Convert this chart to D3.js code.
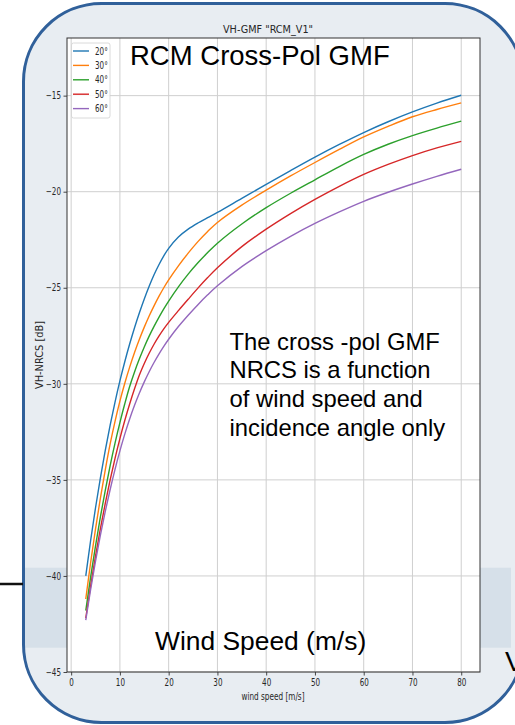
<!DOCTYPE html>
<html><head><meta charset="utf-8">
<script src="https://cdn.jsdelivr.net/npm/d3@7"></script>
<style>html,body{margin:0;padding:0;background:#fff;overflow:hidden}</style>
</head><body>
<svg id="chart" width="515" height="725"></svg>
<script>
// ---- data ----
const windSpeed = [3,4,5,6,7,8,9,10,11,12,13,14,15,16,17,18,19,20,22,24,26,28,30,35,40,45,50,55,60,65,70,75,80];
const angleLabels = ["20°","30°","40°","50°","60°"];
const nrcs20 = [-40.0,-38.15,-36.45,-34.89,-33.46,-32.15,-30.95,-29.85,-28.85,-27.93,-27.08,-26.3,-25.58,-24.92,-24.32,-23.8,-23.34,-22.95,-22.36,-21.95,-21.63,-21.35,-21.08,-20.35,-19.62,-18.9,-18.2,-17.54,-16.92,-16.36,-15.85,-15.39,-14.98];
const nrcs30 = [-41.2,-39.3,-37.55,-35.95,-34.48,-33.13,-31.95,-30.9,-29.97,-29.13,-28.37,-27.68,-27.05,-26.47,-25.94,-25.45,-25.0,-24.59,-23.86,-23.2,-22.6,-22.07,-21.6,-20.7,-19.92,-19.18,-18.48,-17.8,-17.15,-16.6,-16.1,-15.72,-15.38];
const nrcs40 = [-41.8,-40.05,-38.43,-36.93,-35.54,-34.26,-33.09,-32.02,-31.04,-30.14,-29.38,-28.7,-28.08,-27.52,-27.01,-26.54,-26.1,-25.69,-24.95,-24.29,-23.7,-23.17,-22.68,-21.68,-20.83,-20.08,-19.38,-18.69,-18.06,-17.53,-17.08,-16.69,-16.33];
const nrcs50 = [-42.2,-40.52,-38.97,-37.54,-36.22,-35.0,-33.88,-32.85,-31.91,-31.05,-30.26,-29.54,-28.94,-28.41,-27.94,-27.52,-27.14,-26.8,-26.19,-25.6,-25.02,-24.47,-23.96,-22.86,-21.95,-21.14,-20.4,-19.72,-19.1,-18.58,-18.12,-17.72,-17.38];
const nrcs60 = [-42.3,-40.7,-39.23,-37.88,-36.64,-35.5,-34.45,-33.49,-32.62,-31.83,-31.12,-30.48,-29.9,-29.37,-28.89,-28.45,-28.05,-27.68,-27.02,-26.43,-25.88,-25.37,-24.9,-23.9,-23.07,-22.32,-21.65,-21.05,-20.5,-20.03,-19.6,-19.2,-18.83];
const xTicks = [0,10,20,30,40,50,60,70,80];
const yTicks = [-45,-40,-35,-30,-25,-20,-15];
const xDomain = [-0.85, 83.85];
const yDomain = [-45, -12];
const chartTitle = 'VH-GMF "RCM_V1"';
const xLabel = "wind speed [m/s]";
const yLabel = "VH-NRCS [dB]";
const overlayTitle = "RCM Cross-Pol GMF";
const noteLines = ["The cross -pol GMF","NRCS is a function","of wind speed and","incidence angle only"];
const overlayXLabel = "Wind Speed (m/s)";

const series = [nrcs20, nrcs30, nrcs40, nrcs50, nrcs60];
const colors = ["#1f77b4","#ff7f0e","#2ca02c","#d62728","#9467bd"];

// ---- layout ----
const svg = d3.select("#chart");
const plot = {left: 67, right: 480, top: 38, bottom: 672};
const SQ = 0.72; // horizontal squeeze of the embedded matplotlib picture
const mplFont = "'DejaVu Sans', sans-serif";
const pptFont = "'Liberation Sans', Arial, sans-serif";

// slide background pieces
svg.append("rect").attr("x",0).attr("y",0).attr("width",515).attr("height",725).attr("fill","#fff");
svg.append("rect").attr("x",23.5).attr("y",3.5).attr("width",499.5).attr("height",719)
  .attr("rx",78).attr("ry",78).attr("fill","#e8edf2").attr("stroke","none");
svg.append("rect").attr("x",25).attr("y",567.7).attr("width",plot.left-25).attr("height",80).attr("fill","#d6e0e9");
svg.append("rect").attr("x",plot.right).attr("y",567.7).attr("width",511-plot.right).attr("height",80).attr("fill","#d6e0e9");
svg.append("rect").attr("x",23.5).attr("y",3.5).attr("width",499.5).attr("height",719)
  .attr("rx",78).attr("ry",78).attr("fill","none").attr("stroke","#30609a").attr("stroke-width",3);
svg.append("line").attr("x1",0).attr("x2",23).attr("y1",584).attr("y2",584).attr("stroke","#111").attr("stroke-width",2.5);

// scales
const x = d3.scaleLinear().domain(xDomain).range([plot.left, plot.right]);
const y = d3.scaleLinear().domain(yDomain).range([plot.bottom, plot.top]);

// axes background
svg.append("rect").attr("x",plot.left).attr("y",plot.top)
  .attr("width",plot.right-plot.left).attr("height",plot.bottom-plot.top).attr("fill","#fff");

// grid
const grid = svg.append("g");
grid.selectAll(".gx").data(xTicks).join("line")
  .attr("x1",d=>x(d)).attr("x2",d=>x(d)).attr("y1",plot.top).attr("y2",plot.bottom)
  .attr("stroke","#cfcfcf").attr("stroke-width",1);
grid.selectAll(".gy").data(yTicks).join("line")
  .attr("x1",plot.left).attr("x2",plot.right).attr("y1",d=>y(d)).attr("y2",d=>y(d))
  .attr("stroke","#cfcfcf").attr("stroke-width",1);

// curves
const line = d3.line().x(d=>x(d[0])).y(d=>y(d[1])).curve(d3.curveCatmullRom.alpha(0.5));
series.forEach((vals,i)=>{
  svg.append("path").datum(windSpeed.map((w,j)=>[w,vals[j]]))
    .attr("d",line).attr("fill","none").attr("stroke",colors[i]).attr("stroke-width",1.4);
});

// axes
const xAxis = svg.append("g").attr("transform",`translate(0,${plot.bottom})`)
  .call(d3.axisBottom(x).tickValues(xTicks).tickSize(3.5).tickPadding(3).tickFormat(d3.format("d")));
const yAxis = svg.append("g").attr("transform",`translate(${plot.left},0)`)
  .call(d3.axisLeft(y).tickValues(yTicks).tickSize(3.5).tickFormat(d=>"\u2212"+Math.abs(d)));
[xAxis,yAxis].forEach(a=>{
  a.select(".domain").remove();
  a.selectAll(".tick line").attr("stroke","#333").attr("stroke-width",0.9);
  a.selectAll("text").attr("font-family",mplFont).attr("font-size",10).attr("fill","#262626");
});
yAxis.selectAll("text").attr("x",-6/SQ).attr("transform",`scale(${SQ},1)`);
xAxis.selectAll("text").attr("transform",`scale(${SQ},1)`);

// spines
svg.append("rect").attr("x",plot.left).attr("y",plot.top)
  .attr("width",plot.right-plot.left).attr("height",plot.bottom-plot.top)
  .attr("fill","none").attr("stroke","#333").attr("stroke-width",1);

// matplotlib title and axis labels
svg.append("text").attr("x",268).attr("y",33).attr("text-anchor","middle")
  .attr("font-family",mplFont).attr("font-size",11).attr("fill","#262626")
  .attr("textLength",90).attr("lengthAdjust","spacingAndGlyphs").text(chartTitle);
svg.append("text").attr("x",273).attr("y",700).attr("text-anchor","middle")
  .attr("font-family",mplFont).attr("font-size",10).attr("fill","#262626")
  .attr("textLength",63).attr("lengthAdjust","spacingAndGlyphs").text(xLabel);
svg.append("text").attr("transform","translate(43,355) rotate(-90)").attr("text-anchor","middle")
  .attr("font-family",mplFont).attr("font-size",10).attr("fill","#262626")
  .attr("textLength",68).attr("lengthAdjust","spacingAndGlyphs").text(yLabel);

// legend
const lg = svg.append("g");
lg.append("rect").attr("x",71.5).attr("y",43).attr("width",38.5).attr("height",75).attr("rx",2)
  .attr("fill","#fff").attr("fill-opacity",0.85).attr("stroke","#d0d0d0").attr("stroke-width",0.8);
angleLabels.forEach((lab,i)=>{
  const yy = 51 + i*14.4;
  lg.append("line").attr("x1",73).attr("x2",89).attr("y1",yy).attr("y2",yy)
    .attr("stroke",colors[i]).attr("stroke-width",1.4);
  lg.append("text").attr("transform",`translate(95,${yy+3.5}) scale(${SQ},1)`)
    .attr("font-family",mplFont).attr("font-size",10).attr("fill","#262626").text(lab);
});

// slide overlay texts
svg.append("text").attr("x",130).attr("y",65).attr("font-family",pptFont).attr("font-size",27.5)
  .attr("fill","#000").text(overlayTitle);
noteLines.forEach((t,i)=>{
  svg.append("text").attr("x",229.5).attr("y",349.5+i*28.7).attr("font-family",pptFont)
    .attr("font-size",23.8).attr("fill","#000").text(t);
});
svg.append("text").attr("x",155).attr("y",650).attr("font-family",pptFont).attr("font-size",26.4)
  .attr("fill","#000").text(overlayXLabel);
svg.append("text").attr("x",505).attr("y",671).attr("font-family",pptFont).attr("font-size",28)
  .attr("fill","#000").text("V");
</script>
</body></html>
